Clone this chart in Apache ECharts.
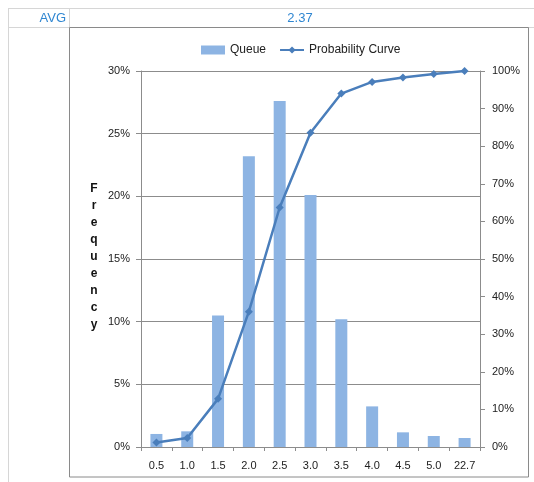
<!DOCTYPE html>
<html>
<head>
<meta charset="utf-8">
<script src="https://cdn.jsdelivr.net/npm/echarts@6/dist/echarts.min.js"></script>
<style>
  html, body { margin: 0; padding: 0; background: #fff; }
  #chart { width: 534px; height: 482px; }
</style>
</head>
<body>
<div id="chart"></div>
<script>
// Queue-time distribution: frequency per bin plus the cumulative curve
const categories = ['0.5', '1.0', '1.5', '2.0', '2.5', '3.0', '3.5', '4.0', '4.5', '5.0', '22.7'];
const queueFreq = [0.0104, 0.0125, 0.105, 0.232, 0.276, 0.201, 0.102, 0.0324, 0.0117, 0.0088, 0.0072];
const probabilityCurve = [0.012, 0.024, 0.128, 0.360, 0.637, 0.836, 0.940, 0.971, 0.983, 0.992, 1.0];
const avgLabel = 'AVG';
const avgValue = '2.37';
const yTitle = 'Frequency';

const FONT = '"Liberation Sans", Arial, sans-serif';
const TXT = '#222';
const BLUE = '#2f86d1';
const GRID = '#8c8c8c';

const pct = v => Math.round(v * 100) + '%';

const chart = echarts.init(document.getElementById('chart'), null, { renderer: 'canvas' });

chart.setOption({
  animation: false,
  backgroundColor: '#fff',
  textStyle: { fontFamily: FONT },
  graphic: [
    // sheet cell lines
    { type: 'line', shape: { x1: 8, y1: 8.5, x2: 534, y2: 8.5 }, style: { stroke: '#d6d6d6', lineWidth: 1 } },
    { type: 'line', shape: { x1: 8, y1: 27.5, x2: 534, y2: 27.5 }, style: { stroke: '#d6d6d6', lineWidth: 1 } },
    { type: 'line', shape: { x1: 8.5, y1: 8, x2: 8.5, y2: 482 }, style: { stroke: '#d6d6d6', lineWidth: 1 } },
    { type: 'line', shape: { x1: 69.5, y1: 8, x2: 69.5, y2: 27 }, style: { stroke: '#d6d6d6', lineWidth: 1 } },
    // chart frame
    { type: 'rect', shape: { x: 69.5, y: 27.5, width: 459, height: 449.5 }, style: { fill: 'none', stroke: '#8a8a8a', lineWidth: 1 } },
    // cell texts
    { type: 'text', x: 66, y: 18, style: { text: avgLabel, fill: BLUE, font: '13px ' + FONT, textAlign: 'right', textVerticalAlign: 'middle' } },
    { type: 'text', x: 300, y: 18, style: { text: avgValue, fill: BLUE, font: '13px ' + FONT, textAlign: 'center', textVerticalAlign: 'middle' } },
    // vertical axis title, one letter per line
    { type: 'text', x: 94, y: 257, style: { text: yTitle.split('').join('\n'), fill: '#111', font: 'bold 12px ' + FONT, lineHeight: 17, textAlign: 'center', textVerticalAlign: 'middle' } }
  ],
  legend: {
    top: 39,
    left: 196,
    itemWidth: 24,
    itemHeight: 9,
    itemGap: 13,
    textStyle: { fontSize: 12, color: TXT, fontFamily: FONT },
    data: [
      { name: 'Queue', icon: 'rect' },
      { name: 'Probability Curve' }
    ]
  },
  grid: { left: 141, right: 54, top: 71, bottom: 35, containLabel: false },
  xAxis: {
    type: 'category',
    data: categories,
    axisLine: { lineStyle: { color: GRID } },
    axisTick: { show: true, length: 4, lineStyle: { color: GRID } },
    axisLabel: { fontSize: 11, color: TXT, margin: 13, fontFamily: FONT }
  },
  yAxis: [
    {
      type: 'value',
      min: 0,
      max: 0.3,
      interval: 0.05,
      axisLine: { show: true, lineStyle: { color: GRID } },
      axisTick: { show: true, length: 5, lineStyle: { color: GRID } },
      axisLabel: { formatter: pct, fontSize: 11, color: TXT, margin: 11, fontFamily: FONT },
      splitLine: { show: true, lineStyle: { color: GRID, width: 1 } }
    },
    {
      type: 'value',
      min: 0,
      max: 1,
      interval: 0.1,
      position: 'right',
      axisLine: { show: true, lineStyle: { color: GRID } },
      axisTick: { show: true, length: 5, lineStyle: { color: GRID } },
      axisLabel: { formatter: pct, fontSize: 11, color: TXT, margin: 12, fontFamily: FONT },
      splitLine: { show: false }
    }
  ],
  series: [
    {
      name: 'Queue',
      type: 'bar',
      data: queueFreq,
      barWidth: 12,
      itemStyle: { color: '#8db4e3' }
    },
    {
      name: 'Probability Curve',
      type: 'line',
      yAxisIndex: 1,
      data: probabilityCurve,
      symbol: 'diamond',
      symbolSize: 8,
      showAllSymbol: true,
      lineStyle: { color: '#4a7ebb', width: 2.5 },
      itemStyle: { color: '#4a7ebb' }
    }
  ]
});
</script>
</body>
</html>
